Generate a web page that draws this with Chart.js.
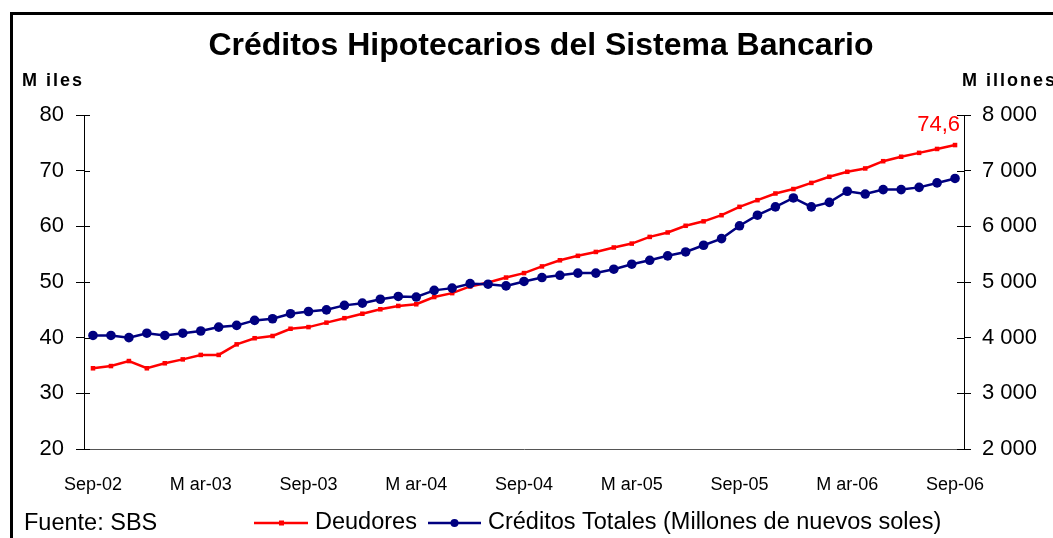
<!DOCTYPE html>
<html>
<head>
<meta charset="utf-8">
<script src="https://cdn.jsdelivr.net/npm/chart.js@4"></script>
<style>
  body { margin: 0; background: #fff; }
  canvas { display: block; }
</style>
</head>
<body>
<canvas id="hipotecarios" width="1053" height="538"></canvas>
<script>
// months Sep-02 .. Sep-06
var months = [
  "Sep-02","Oct-02","Nov-02","Dic-02","Ene-03","Feb-03","Mar-03","Abr-03","May-03","Jun-03","Jul-03","Ago-03",
  "Sep-03","Oct-03","Nov-03","Dic-03","Ene-04","Feb-04","Mar-04","Abr-04","May-04","Jun-04","Jul-04","Ago-04",
  "Sep-04","Oct-04","Nov-04","Dic-04","Ene-05","Feb-05","Mar-05","Abr-05","May-05","Jun-05","Jul-05","Ago-05",
  "Sep-05","Oct-05","Nov-05","Dic-05","Ene-06","Feb-06","Mar-06","Abr-06","May-06","Jun-06","Jul-06","Ago-06",
  "Sep-06"
];
// labels shown on the axis (every 6 months)
var tickLabels = ["Sep-02","M ar-03","Sep-03","M ar-04","Sep-04","M ar-05","Sep-05","M ar-06","Sep-06"];

// Deudores (miles)
var deudores = [
  34.5, 34.9, 35.8, 34.5, 35.4, 36.1, 36.9, 36.9, 38.8, 39.9, 40.3, 41.6,
  41.9, 42.7, 43.5, 44.3, 45.1, 45.7, 46.0, 47.3, 48.0, 49.2, 49.9, 50.8,
  51.6, 52.8, 53.9, 54.7, 55.4, 56.2, 56.9, 58.1, 58.9, 60.1, 60.9, 62.0,
  63.5, 64.7, 65.9, 66.7, 67.8, 68.9, 69.8, 70.4, 71.7, 72.5, 73.2, 73.9,
  74.6
];
// Creditos totales (millones de nuevos soles)
var creditos = [
  4040, 4040, 4000, 4080, 4040, 4080, 4120, 4190, 4220, 4310, 4340, 4430,
  4470, 4500, 4580, 4620, 4690, 4740, 4730, 4850, 4890, 4970, 4960, 4930,
  5010, 5080, 5120, 5160, 5160, 5230, 5320, 5390, 5470, 5540, 5660, 5780,
  6010, 6200, 6350, 6510, 6350, 6430, 6630, 6580, 6660, 6660, 6700, 6780,
  6860
];

var FONT = "'Liberation Sans', Arial, sans-serif";
Chart.defaults.font.family = FONT;
Chart.defaults.color = "#000";

var decor = {
  id: "decor",
  beforeDraw: function(chart) {
    var c = chart.ctx;
    c.save();
    c.fillStyle = "#fff";
    c.fillRect(0, 0, chart.width, chart.height);
    // frame (top + left)
    c.fillStyle = "#000";
    c.fillRect(10, 12, chart.width - 10, 3);
    c.fillRect(10, 12, 3, chart.height - 12);
    c.restore();
  },
  afterDraw: function(chart) {
    var c = chart.ctx;
    var area = chart.chartArea;
    var y = chart.scales.y, y1 = chart.scales.y1;
    c.save();
    // inner part of the crossing tick marks
    c.strokeStyle = "#000";
    c.lineWidth = 1;
    c.beginPath();
    y.ticks.forEach(function(t) {
      var p = Math.round(y.getPixelForValue(t.value)) + 0.5;
      c.moveTo(area.left, p); c.lineTo(area.left + 6, p);
    });
    y1.ticks.forEach(function(t) {
      var p = Math.round(y1.getPixelForValue(t.value)) + 0.5;
      c.moveTo(area.right - 7, p); c.lineTo(area.right, p);
    });
    c.stroke();

    // title
    c.fillStyle = "#000";
    c.textAlign = "center";
    c.textBaseline = "alphabetic";
    c.font = "bold 32px " + FONT;
    c.fillText("Créditos Hipotecarios del Sistema Bancario", 541, 55);

    // axis units
    c.textAlign = "left";
    c.font = "bold 18px " + FONT;
    c.letterSpacing = "2px";
    c.fillText("M iles", 22, 86);
    c.fillText("M illones", 962, 86);
    c.letterSpacing = "0px";

    // last value label
    var meta = chart.getDatasetMeta(0);
    var last = meta.data[meta.data.length - 1];
    c.fillStyle = "#ff0000";
    c.textAlign = "right";
    c.font = "22px " + FONT;
    c.fillText(String(deudores[deudores.length - 1]).replace(".", ","), last.x + 5, last.y - 14);

    // source
    c.fillStyle = "#000";
    c.textAlign = "left";
    c.textBaseline = "middle";
    c.font = "23.5px " + FONT;
    c.fillText("Fuente: SBS", 24, 524);

    // legend
    var ly = 523;
    c.lineWidth = 2.5;
    c.strokeStyle = "#ff0000";
    c.beginPath(); c.moveTo(254, ly); c.lineTo(308, ly); c.stroke();
    c.fillStyle = "#ff0000";
    c.fillRect(279, ly - 2.5, 5, 5);
    c.fillStyle = "#000";
    c.fillText(chart.data.datasets[0].label, 315, ly);

    c.strokeStyle = "#000080";
    c.beginPath(); c.moveTo(428, ly); c.lineTo(481, ly); c.stroke();
    c.fillStyle = "#000080";
    c.beginPath(); c.arc(454.5, ly, 4, 0, Math.PI * 2); c.fill();
    c.fillStyle = "#000";
    c.fillText(chart.data.datasets[1].label, 488, ly);
    c.restore();
  }
};

new Chart(document.getElementById("hipotecarios"), {
  type: "line",
  data: {
    labels: months,
    datasets: [
      {
        label: "Deudores",
        data: deudores,
        yAxisID: "y",
        borderColor: "#ff0000",
        backgroundColor: "#ff0000",
        borderWidth: 2.5,
        pointStyle: "rect",
        pointRadius: 3.2,
        pointBorderWidth: 0,
        tension: 0,
        order: 2
      },
      {
        label: "Créditos Totales (Millones de nuevos soles)",
        data: creditos,
        yAxisID: "y1",
        borderColor: "#000080",
        backgroundColor: "#000080",
        borderWidth: 2.5,
        pointStyle: "circle",
        pointRadius: 4.8,
        pointBorderWidth: 0,
        tension: 0,
        order: 1
      }
    ]
  },
  options: {
    responsive: false,
    animation: false,
    layout: { padding: { top: 115, left: 0, right: 0, bottom: 0 } },
    plugins: {
      legend: { display: false },
      tooltip: { enabled: false },
      title: { display: false }
    },
    scales: {
      x: {
        type: "category",
        offset: true,
        grid: { display: false },
        border: { display: true, color: "#555", width: 1 },
        ticks: {
          autoSkip: false,
          maxRotation: 0,
          padding: 17,
          font: { size: 18 },
          callback: function(v, i) { return i % 6 === 0 ? tickLabels[i / 6] : null; }
        },
        afterFit: function(s) { s.height = 89; }
      },
      y: {
        position: "left",
        min: 20,
        max: 80,
        ticks: { stepSize: 10, padding: 12, font: { size: 22 } },
        grid: { drawOnChartArea: false, tickLength: 8, color: "#000" },
        border: { color: "#000", width: 1 },
        afterFit: function(s) { s.width = 84; }
      },
      y1: {
        position: "right",
        min: 2000,
        max: 8000,
        ticks: {
          stepSize: 1000,
          padding: 11,
          font: { size: 22 },
          callback: function(v) { return String(v).replace(/\B(?=(\d{3})+$)/, " "); }
        },
        grid: { drawOnChartArea: false, tickLength: 7, color: "#000" },
        border: { color: "#000", width: 1 },
        afterFit: function(s) { s.width = 89; }
      }
    }
  },
  plugins: [decor]
});
</script>
</body>
</html>
